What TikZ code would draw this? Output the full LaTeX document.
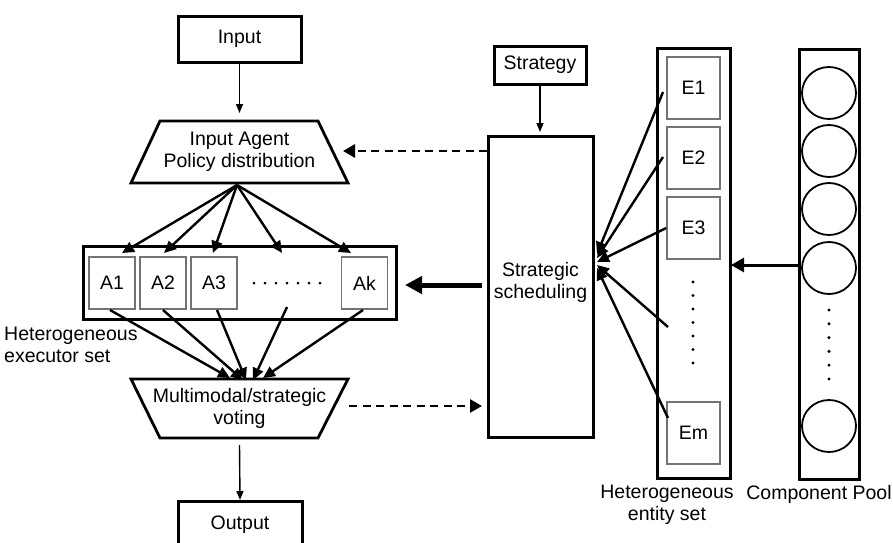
\documentclass[tikz,border=0pt]{standalone}
\usepackage{fontspec}
\setmainfont{Liberation Sans}
\usetikzlibrary{arrows.meta,calc}
\begin{document}
\begin{tikzpicture}[x=1pt,y=-1pt,
  every node/.style={font=\fontsize{19.5}{22}\selectfont, inner sep=0pt},
  frame/.style={draw, line width=3pt},
  cell/.style={draw=black!55, line width=1.6pt, minimum width=46pt, minimum height=52pt},
  ecell/.style={draw=black!55, line width=1.6pt, minimum width=53pt, minimum height=62pt},
  thinarr/.style={line width=1.4pt, -{Triangle[length=9pt,width=7pt]}},
  fanarr/.style={line width=2.4pt, -{Triangle[length=12pt,width=11pt]}},
  dasharr/.style={line width=2.8pt, dash pattern=on 8pt off 5.5pt, -{Triangle[length=12pt,width=13pt]}},
  dotmark/.style={fill, circle, minimum size=3.4pt}
]
\useasboundingbox (0,0) rectangle (893,542);

% ---------- left column ----------
\node[frame, minimum width=123pt, minimum height=46pt] (input) at (239.5,39) {Input};

\draw[line width=2.8pt] (160,121) -- (318,121) -- (348,183) -- (131,183) -- cycle;
\node[align=center] (agent) at (239.5,152) {Input Agent\\Policy distribution};
\coordinate (agentbot) at (237,185);

\draw[thinarr] (input.south) -- (239.5,113);

\draw[frame] (83,246) rectangle (396,319);
\node[cell] (a1) at (112,283) {A1};
\node[cell] (a2) at (163,283) {A2};
\node[cell] (a3) at (214,283) {A3};
\node[cell] (ak) at (364.5,283) {Ak};
\foreach \k in {0,...,6} \node[dotmark, minimum size=3pt] at (254+11*\k,283) {};
\coordinate (dotsTop) at (282,253);
\coordinate (dotsBot) at (287,307);

\coordinate (t1) at (122,253);
\coordinate (t2) at (164,253);
\coordinate (t3) at (213,253);
\coordinate (tk) at (351,253);
\draw[fanarr] (agentbot) -- (t1);
\draw[fanarr] (agentbot) -- (t2);
\draw[fanarr] (agentbot) -- (t3);
\draw[fanarr] (agentbot) -- (dotsTop);
\draw[fanarr] (agentbot) -- (tk);

\node[align=left, anchor=west] (execlbl) at (4,345) {Heterogeneous\\executor set};

\draw[line width=2.8pt] (131,379) -- (348,379) -- (318,438) -- (160,438) -- cycle;
\node[align=center] (vote) at (239.5,408) {Multimodal/strategic\\voting};

\draw[fanarr] (110,310) -- (230,378);
\draw[fanarr] (163,310) -- (243,380);
\draw[fanarr] (217,310) -- (246,380);
\draw[fanarr] (dotsBot) -- (253,380);
\draw[fanarr] (363,310) -- (263,378);

\coordinate (votebot) at (239.5,445);
\node[frame, minimum width=124pt, minimum height=60pt, anchor=north] (output) at (240,500) {};
\node at (240,525) {Output};
\draw[thinarr] (votebot) -- (output.north);

% ---------- scheduling ----------
\node[frame, minimum width=92pt, minimum height=38pt] (strategy) at (540,65) {Strategy};
\draw[frame] (488,136) rectangle (593,437);
\node[align=center] (sched) at (540.5,282) {Strategic\\scheduling};
\draw[thinarr] (strategy.south) -- (540,132);

\draw[dasharr] (487,151) -- (343,151);
\draw[dasharr] (349,406) -- (482,406);
\draw[line width=5pt, -{Triangle[length=17pt,width=17pt]}] (482,285) -- (405,285);

% ---------- entity set ----------
\draw[frame] (657,48) rectangle (730,478);
\node[ecell] (e1) at (693.5,88) {E1};
\node[ecell] (e2) at (693.5,158) {E2};
\node[ecell] (e3) at (693.5,228) {E3};
\node[ecell] (em) at (693.5,433) {Em};
\foreach \k in {0,...,6} \node[dotmark] at (693,282+13.5*\k) {};
\coordinate (edots) at (668,327);

\draw[fanarr] (663,92) -- (597,254);
\draw[fanarr] (663,157) -- (597,258);
\draw[fanarr] (e3.west) -- (597,262);
\draw[fanarr] (edots) -- (597,265);
\draw[fanarr] (668,418) -- (597,268);

\node[align=center] (entlbl) at (667,505) {Heterogeneous\\entity set};

% ---------- component pool ----------
\draw[frame] (799,49) rectangle (859,479);
\foreach \y in {93,151,209,268,426} \draw[line width=1.8pt] (829,\y) ellipse (27pt and 26pt);
\foreach \k in {0,...,5} \node[dotmark] at (829,310+13.8*\k) {};
\coordinate (poolw) at (799,265);
\draw[line width=3pt, -{Triangle[length=13pt,width=14pt]}] (poolw) -- (731,265);
\node (poollbl) at (819,494) {Component Pool};
\end{tikzpicture}
\end{document}
